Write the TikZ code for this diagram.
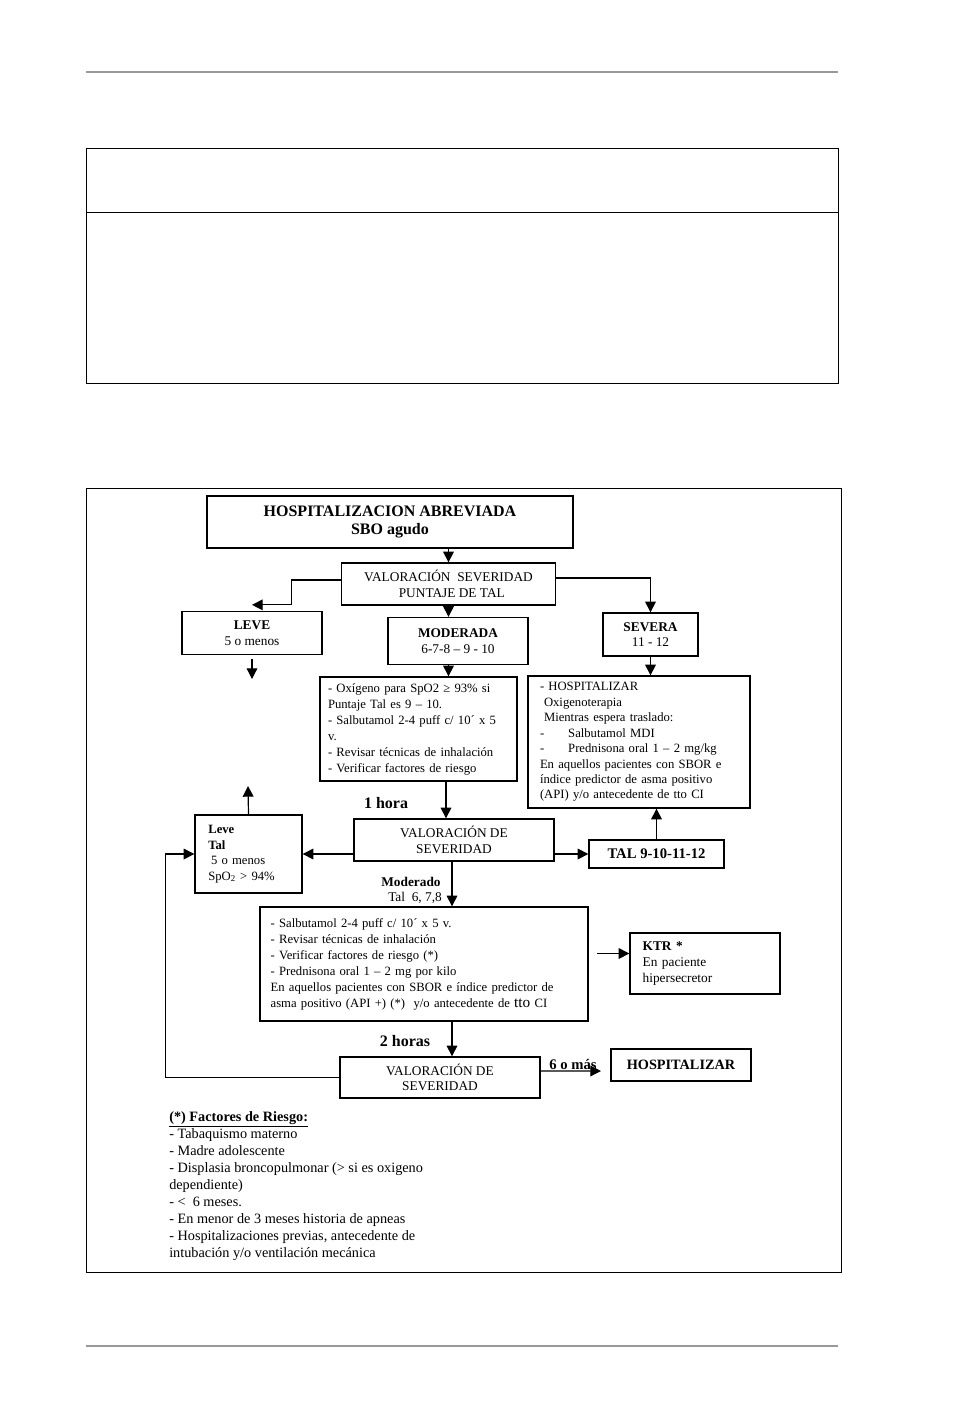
\documentclass[tikz,border=0pt]{standalone}
\usepackage{fontspec}
\setmainfont{Liberation Serif}
\usepackage{tikz}
\usetikzlibrary{arrows.meta,positioning}

\begin{document}
\begin{tikzpicture}[x=0.75pt,y=-0.75pt]
\tikzset{base/.style={draw, line width=1pt, align=center, inner sep=0pt, font=\fontsize{10}{11.7}\selectfont}, }
\tikzset{caja node/.style={base}, }
\tikzset{titulo node/.style={base, font=\bfseries\fontsize{12}{14}\selectfont}, }
\tikzset{texto node/.style={base, align=left, inner xsep=8pt, font=\fontsize{9.5}{11.6}\selectfont}, }
\tikzset{etiqueta/.style={font=\bfseries\fontsize{12}{14}\selectfont, inner sep=0pt}, }
\tikzset{linea/.style={line width=0.9pt, -{Triangle[length=8pt,width=8pt]}}, }
\tikzset{marco/.style={line width=0.7pt}, }

\useasboundingbox (0,0) rectangle (969,1414);
% righe di pagina e tabella vuota
\draw[gray!80, line width=1.3pt] (86,72) -- (838,72);
\draw[gray!80, line width=1.3pt] (86,1346) -- (838,1346);
\draw[marco] (86,148) rectangle (838,383);
\draw[marco] (86,212) -- (838,212);
\draw[marco] (86,488) rectangle (841,1272);

% primo livello
\node[titulo node, minimum width=274.5pt, minimum height=39pt] (hosp) at (390,522) {HOSPITALIZACION ABREVIADA\\SBO agudo};
\node[caja node, minimum width=160.5pt, minimum height=31.5pt] (val1) at (448.5,584) {VALORACIÓN\ \ SEVERIDAD\\\ \ PUNTAJE DE TAL};
\node[caja node, minimum width=105pt, minimum height=32.25pt] (leve) at (252,633) {\textbf{LEVE}\\5 o menos};
\node[caja node, minimum width=105pt, minimum height=35.25pt] (mod) at (458,641) {\textbf{MODERADA}\\6-7-8 – 9 - 10};
\node[caja node, minimum width=71.25pt, minimum height=32.25pt] (sev) at (650.5,634.5) {\textbf{SEVERA}\\11 - 12};

% trattamenti
\node[texto node, inner xsep=9pt, text width=148.5pt, minimum height=99pt] (hospbox) at (639,742) {- HOSPITALIZAR\\
\hspace*{3pt}Oxigenoterapia\\
\hspace*{3pt}Mientras espera traslado:\\
-\hspace*{18pt}Salbutamol MDI\\
-\hspace*{18pt}Prednisona oral 1 – 2 mg/kg\\
En aquellos pacientes con SBOR e\\
índice predictor de asma positivo\\
(API) y/o antecedente de tto CI};
\node[texto node, inner xsep=6pt, text width=135.75pt, minimum height=78pt, font=\fontsize{9.5}{12}\selectfont] (oxi) at (418.5,729) {- Oxígeno para SpO2 ≥ 93\% si\\
Puntaje Tal es 9 – 10.\\
- Salbutamol 2-4 puff c/ 10´ x 5\\
v.\\
- Revisar técnicas de inhalación\\
- Verificar factores de riesgo};

% seconda valutazione
\node[caja node, minimum width=150pt, minimum height=31.5pt] (val2) at (454,840) {VALORACIÓN DE\\SEVERIDAD};
\node[texto node, inner xsep=10pt, text width=60.25pt, minimum height=58.5pt, font=\fontsize{9.5}{11.6}\selectfont] (leve2) at (248.5,854) {\textbf{Leve}\\\textbf{Tal}\\\hspace*{2pt}5 o menos\\SpO\textsubscript{2} > 94\%};
\node[caja node, font=\bfseries\fontsize{11}{13}\selectfont, minimum width=101.25pt, minimum height=21pt] (tal) at (656.5,854) {TAL 9-10-11-12};
\node[texto node, text width=230pt, minimum height=85.5pt, font=\fontsize{9.5}{12}\selectfont] (salb) at (424,964) {- Salbutamol 2-4 puff c/ 10´ x 5 v.\\
- Revisar técnicas de inhalación\\
- Verificar factores de riesgo (*)\\
- Prednisona oral 1 – 2 mg por kilo\\
En aquellos pacientes con SBOR e índice predictor de\\
asma positivo (API +) (*)\ \ y/o antecedente de {\fontsize{11.5}{12}\selectfont tto} CI};
\node[texto node, inner xsep=9.5pt, text width=93.5pt, minimum height=45.75pt, font=\fontsize{10}{11.7}\selectfont] (ktr) at (705,963.5) {\textbf{KTR *}\\En paciente\\hipersecretor};

% terza valutazione
\node[caja node, minimum width=150pt, minimum height=30.75pt] (val3) at (440,1077.5) {VALORACIÓN DE\\SEVERIDAD};
\node[caja node, font=\bfseries\fontsize{10.7}{12}\selectfont, minimum width=105pt, minimum height=24pt] (hosp2) at (681,1065) {HOSPITALIZAR};

% etichette
\node[etiqueta] (unahora) at (386,803) {1 hora};
\node[align=center, inner sep=0pt, font=\fontsize{10}{11.25}\selectfont] (moderado) at (411,890) {\textbf{Moderado}\\\hspace*{6pt}Tal\ \ 6, 7,8};
\node[etiqueta] (dosh) at (405,1041) {2 horas};
\node[inner sep=0pt, font=\bfseries\fontsize{11}{13}\selectfont] (seis) at (573,1064) {6 o más};

\coordinate (bajoleve) at (252,679);
\coordinate (arribaleve) at (248,786);

% frecce
\draw[linea] (hosp.south -| val1) -- (val1.north);
\draw[linea] ([yshift=3pt]val1.west) -- ++(-49,0) |- ([yshift=4.5pt]leve.north);
\draw[linea] ([yshift=4.5pt]val1.east) -| (sev.north);
\draw[linea] ([yshift=-3pt]leve.south) -- (bajoleve);
\draw[linea] (val1.south |- mod.south) -- (val1.south |- oxi.north);
\draw[linea] (val1.south) -- (val1.south |- mod.north);
\draw[linea] (sev.south) -- (sev.south |- hospbox.north);
\draw[linea] ([xshift=-6pt]val2.north |- oxi.south) -- ([xshift=-6pt]val2.north);
\draw[linea] (val2.west |- leve2.east) -- (leve2.east);
\draw[linea] (leve2.north) -- (arribaleve);
\draw[linea] (val2.east |- tal.west) -- (tal.west);
\draw[linea] (tal.north) -- (tal.north |- hospbox.south);
\draw[linea] ([xshift=-1.5pt]val2.south) -- ([xshift=-1.5pt]val2.south |- salb.north);
\draw[linea] ([xshift=-24pt,yshift=7.5pt]ktr.west) -- ([yshift=7.5pt]ktr.west);
\draw[linea] ([xshift=-1.5pt]val2.south |- salb.south) -- ([xshift=-1.5pt]val2.south |- val3.north);
\draw[linea] ([yshift=4.9pt]val3.east) -- ([xshift=-7pt,yshift=-4.5pt]hosp2.west);
\draw[linea] (val3.west) -- ++(-174,0) |- (leve2.west);

% fattori di rischio
\node[anchor=north west, align=left, inner sep=0pt, font=\fontsize{10.7}{12.75}\selectfont] (riesgo) at (169,1111) {\textbf{\underline{(*) Factores de Riesgo:}}\\
- Tabaquismo materno\\
- Madre adolescente\\
- Displasia broncopulmonar (> si es oxigeno\\
dependiente)\\
- <\ \ 6 meses.\\
- En menor de 3 meses historia de apneas\\
- Hospitalizaciones previas, antecedente de\\
intubación y/o ventilación mecánica};
\end{tikzpicture}
\end{document}
